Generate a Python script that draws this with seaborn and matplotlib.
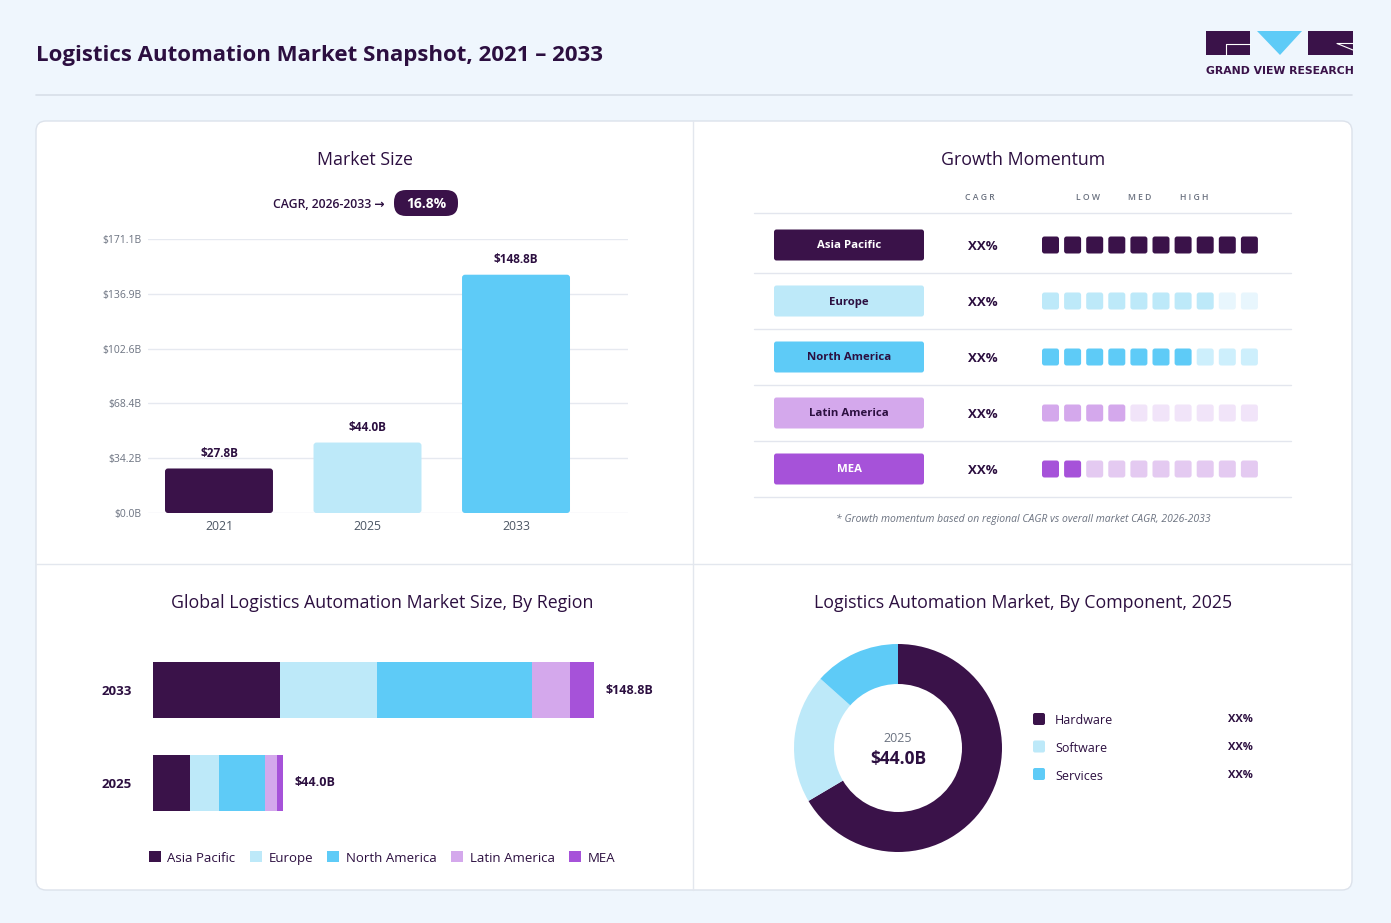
import numpy as np
import pandas as pd
import matplotlib
matplotlib.use("Agg")
import matplotlib.pyplot as plt
import seaborn as sns
from matplotlib.patches import FancyBboxPatch, Rectangle, Polygon

# ---------------- data ----------------
years = ["2021", "2025", "2033"]
market_size = [27.8, 44.0, 148.8]
y_ticks = [0.0, 34.2, 68.4, 102.6, 136.9, 171.1]
cagr_text = "16.8%"

regions = ["Asia Pacific", "Europe", "North America", "Latin America", "MEA"]
region_cagr = ["XX%", "XX%", "XX%", "XX%", "XX%"]
momentum_filled = [10, 8, 7, 4, 2]
momentum_total = 10

stack_years = ["2033", "2025"]
stack_totals = [148.8, 44.0]
region_2033 = [42.7, 33.0, 52.2, 12.9, 8.0]
region_2025 = [12.6, 9.8, 15.5, 4.0, 2.1]

components = ["Hardware", "Software", "Services"]
component_share = [66.5, 20.1, 13.4]
component_label = ["XX%", "XX%", "XX%"]
donut_year = "2025"
donut_total = "$44.0B"

# ---------------- style ----------------
DARK = "#3A1249"
TXT = "#2C0F40"
GRAY = "#6B7280"
LBLUE = "#BDE9F9"
CYAN = "#5ECBF7"
LAV = "#D4A8EC"
PURP = "#A652D9"
region_colors = [DARK, LBLUE, CYAN, LAV, PURP]
region_faded = ["#E4DDEA", "#E8F6FD", "#CDEFFC", "#F1E4F9", "#E4CAF1"]
pill_text = ["white", TXT, TXT, TXT, "white"]
year_colors = [DARK, LBLUE, CYAN]
comp_colors = [DARK, LBLUE, CYAN]

sns.set_theme(style="white")
plt.rcParams["font.family"] = ["Open Sans", "DejaVu Sans"]

W, H = 1391, 923
fig = plt.figure(figsize=(W / 100, H / 100), dpi=100)
fig.patch.set_facecolor("#EFF6FD")


def box(x0, y0, x1, y1):
    return [x0 / W, 1 - y1 / H, (x1 - x0) / W, (y1 - y0) / H]


ov = fig.add_axes([0, 0, 1, 1])
ov.set_xlim(0, W)
ov.set_ylim(H, 0)
ov.axis("off")
ov.set_zorder(0)

# header
ov.text(36, 56, "Logistics Automation Market Snapshot, 2021 \u2013 2033", fontsize=16,
        fontweight="bold", color=TXT, va="center", ha="left")
ov.plot([36, 1352], [95, 95], color="#D8DEE8", lw=1.2)

# logo
ov.add_patch(Rectangle((1206, 31), 44, 24, fc=DARK, ec="none"))
ov.add_patch(Polygon([(1257, 31), (1302, 31), (1280, 55)], closed=True, fc=CYAN, ec="none"))
ov.add_patch(Rectangle((1308, 31), 45, 24, fc=DARK, ec="none"))
ov.plot([1250, 1225.5, 1225.5], [43.5, 43.5, 55], color="white", lw=0.8)
ov.plot([1353, 1337, 1353], [43.5, 43.5, 50], color="white", lw=0.8)
ov.text(1280, 71, "GRAND VIEW RESEARCH", fontsize=7.8, fontweight="semibold", color=DARK,
        ha="center", va="center", family=["DejaVu Sans"])

# card
ov.add_patch(FancyBboxPatch((36, 121), 1316, 769, boxstyle="round,pad=0,rounding_size=10",
                            fc="white", ec="#DCE2EB", lw=1))
ov.plot([693, 693], [121, 890], color="#E3E7EE", lw=1)
ov.plot([36, 1352], [564, 564], color="#E3E7EE", lw=1)

# panel titles
for x, y, t in [(365, 160, "Market Size"), (1023, 160, "Growth Momentum"),
                (382, 603, "Global Logistics Automation Market Size, By Region"),
                (1023, 603, "Logistics Automation Market, By Component, 2025")]:
    ov.text(x, y, t, fontsize=12.8, color=TXT, ha="center", va="center")

# ---------------- Market size ----------------
ov.text(385, 204, "CAGR, 2026-2033 \u2192", fontsize=8.8, fontweight="semibold", color=TXT,
        ha="right", va="center")
ov.add_patch(FancyBboxPatch((394, 190), 64, 26, boxstyle="round,pad=0,rounding_size=12",
                            fc=DARK, ec="none"))
ov.text(426, 204, cagr_text, fontsize=10, fontweight="bold", color="white", ha="center", va="center")

ax1 = fig.add_axes(box(148, 239, 628, 513))
ax1.set_facecolor("none")
ax1.set_zorder(2)
df1 = pd.DataFrame({"year": years, "size": market_size})
sns.barplot(data=df1, x="year", y="size", hue="year", palette=year_colors, legend=False,
            width=0.727, ax=ax1, saturation=1)
ax1.set_xlim(-0.478, 2.754)
ax1.set_ylim(0, 171.1)
ax1.set_yticks(y_ticks)
ax1.set_yticklabels([f"${v:.1f}B" for v in y_ticks])
ax1.yaxis.grid(True, color="#E6E9F0", lw=1)
ax1.set_axisbelow(True)
for s in ax1.spines.values():
    s.set_visible(False)
ax1.tick_params(axis="y", length=0, pad=5, labelsize=7.5, labelcolor=GRAY)
ax1.tick_params(axis="x", length=0, pad=5, labelsize=8.8, labelcolor="#4B5563")
ax1.set_xlabel("")
ax1.set_ylabel("")
# rounded corners for the bars
px_x = 480 / (2.754 + 0.478)
px_y = 274 / 171.1
for p in list(ax1.patches):
    x, y, w, h = p.get_x(), p.get_y(), p.get_width(), p.get_height()
    fb = FancyBboxPatch((x, y), w, h, boxstyle=f"round,pad=0,rounding_size={3 / px_x}",
                        mutation_aspect=px_x / px_y, fc=p.get_facecolor(), ec="none")
    p.set_visible(False)
    ax1.add_patch(fb)
for cont in ax1.containers:
    ax1.bar_label(cont, labels=[f"${v:.1f}B" for v in cont.datavalues], padding=6,
                  fontsize=8.5, fontweight="bold", color=TXT)

# ---------------- Growth momentum ----------------
for x, t in [(980, "C A G R"), (1088, "L O W"), (1140, "M E D"), (1194, "H I G H")]:
    ov.text(x, 197, t, fontsize=6.2, color=GRAY, ha="center", va="center", fontweight="semibold")
ov.plot([754, 1291], [213, 213], color="#E3E6EE", lw=1)
row_y0, row_pitch = 245, 56
sq_x0, sq_pitch, sq = 1042, 22.1, 17
for i, reg in enumerate(regions):
    cy = row_y0 + i * row_pitch
    ov.add_patch(FancyBboxPatch((774, cy - 15.5), 150, 31, boxstyle="round,pad=0,rounding_size=2.5",
                                fc=region_colors[i], ec="none"))
    ov.text(849, cy + 1, reg, fontsize=8.2, fontweight="bold", color=pill_text[i], ha="center", va="center")
    ov.text(983, cy + 1, region_cagr[i], fontsize=9.5, fontweight="bold", color=TXT, ha="center", va="center")
    for k in range(momentum_total):
        col = region_colors[i] if k < momentum_filled[i] else region_faded[i]
        ov.add_patch(FancyBboxPatch((sq_x0 + k * sq_pitch, cy - sq / 2), sq, sq,
                                    boxstyle="round,pad=0,rounding_size=2.5", fc=col, ec="none"))
    ov.plot([754, 1291], [cy + 28, cy + 28], color="#E3E6EE", lw=1)
ov.text(1023, 519, "* Growth momentum based on regional CAGR vs overall market CAGR, 2026-2033",
        fontsize=7.5, style="italic", color=GRAY, ha="center", va="center")

# ---------------- Stacked bars by region ----------------
ax2 = fig.add_axes(box(153, 643.5, 653, 829.5))
ax2.set_facecolor("none")
ax2.set_zorder(2)
stack = np.array([region_2033, region_2025])
ypos = np.arange(len(stack_years))
left = np.zeros(len(stack_years))
for j, reg in enumerate(regions):
    ax2.barh(ypos, stack[:, j], left=left, height=0.602, color=region_colors[j], label=reg,
             edgecolor="none")
    left += stack[:, j]
ax2.set_xlim(0, 500 / 2.964)
ax2.set_ylim(1.5, -0.5)
ax2.set_yticks(ypos)
ax2.set_yticklabels(stack_years)
ax2.set_xticks([])
for s in ax2.spines.values():
    s.set_visible(False)
ax2.tick_params(axis="y", length=0, pad=15, labelsize=9.5)
for lab in ax2.get_yticklabels():
    lab.set_fontweight("bold")
    lab.set_color(TXT)
for yi, tot in zip(ypos, stack_totals):
    ax2.text(tot + 11 / 2.964, yi, f"${tot:.1f}B", fontsize=9, fontweight="bold", color=TXT,
             va="center", ha="left")
handles = [Rectangle((0, 0), 1, 1, fc=c, ec="none") for c in region_colors]
leg = fig.legend(handles, regions, loc="center", bbox_to_anchor=(382 / W, 1 - 858 / H), ncol=5,
                 frameon=False, fontsize=9.5, handlelength=0.9, handleheight=0.9,
                 handletextpad=0.5, columnspacing=1.1)
for t in leg.get_texts():
    t.set_color(TXT)

# ---------------- Donut ----------------
R = 104
lim = 1.06
ax3 = fig.add_axes(box(898 - R * lim, 748 - R * lim, 898 + R * lim, 748 + R * lim))
ax3.set_facecolor("none")
ax3.set_zorder(2)
ax3.pie(component_share, colors=comp_colors, startangle=90, counterclock=False, radius=1,
        wedgeprops=dict(width=40 / R, edgecolor="none"))
ax3.set_xlim(-lim, lim)
ax3.set_ylim(-lim, lim)
ax3.set_aspect("equal")
ax3.text(0, 9 / R, donut_year, fontsize=9, color=GRAY, ha="center", va="center")
ax3.text(0, -11 / R, donut_total, fontsize=12.5, fontweight="bold", color=TXT, ha="center", va="center")

for i, comp in enumerate(components):
    cy = 719 + i * 27.5
    ov.add_patch(FancyBboxPatch((1033, cy - 6), 12, 12, boxstyle="round,pad=0,rounding_size=2",
                                fc=comp_colors[i], ec="none"))
    ov.text(1055, cy + 2, comp, fontsize=9, color=TXT, ha="left", va="center")
    ov.text(1253, cy + 1, component_label[i], fontsize=8, fontweight="bold", color=TXT,
            ha="right", va="center")

fig.savefig("out.png", dpi=100, facecolor=fig.get_facecolor())
